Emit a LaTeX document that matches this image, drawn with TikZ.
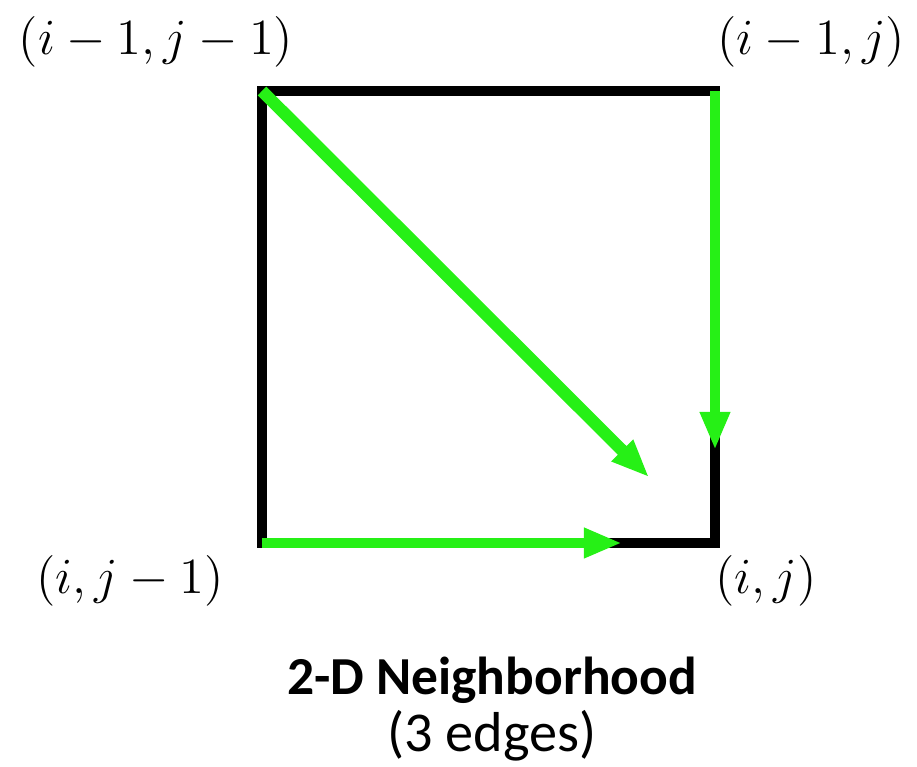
\documentclass[tikz,border=0pt]{standalone}
\usepackage[no-math]{fontspec}
\setmainfont{Carlito}
\usetikzlibrary{arrows.meta}
\definecolor{edgegreen}{RGB}{38,240,22}
\begin{document}
\begin{tikzpicture}[x=0.01cm, y=-0.01cm,
  cell/.style={draw=black, line width=2.6pt, line cap=rect},
  edge/.style={draw=edgegreen, line width=3.1pt,
               -{Triangle[length=3.8mm, width=2.8mm]}, shorten >=0.93cm},
  corner/.style={font=\fontsize{15.6}{19}\selectfont, inner sep=0pt},
  caption/.style={font=\fontsize{16}{19}\selectfont, inner sep=0pt, anchor=base},
]
\useasboundingbox (0,0) rectangle (917,767);

% grid cell corners
\coordinate (tl) at (262,91);
\coordinate (tr) at (715,91);
\coordinate (bl) at (262,543);
\coordinate (br) at (715,543);

% cell outline
\draw[cell] (tl) -- (tr) -- (br) -- (bl) -- cycle;

% corner labels
\node[corner] (lbltl) at (156,42)  {$(i-1,j-1)$};
\node[corner] (lbltr) at (811,42)  {$(i-1,j)$};
\node[corner] (lblbl) at (130,581) {$(i,j-1)$};
\node[corner] (lblbr) at (766,581) {$(i,j)$};

% neighborhood edges into (i,j)
\draw[edge, line width=3.5pt] (tl) -- (br);
\draw[edge] (tr) -- (br);
\draw[edge] (bl) -- (br);

% caption
\node[caption, font=\fontsize{15.2}{18}\selectfont\bfseries] (title) at (492,695) {2-D Neighborhood};
\node[caption] (sub) at (492,752) {(3 edges)};
\end{tikzpicture}
\end{document}
